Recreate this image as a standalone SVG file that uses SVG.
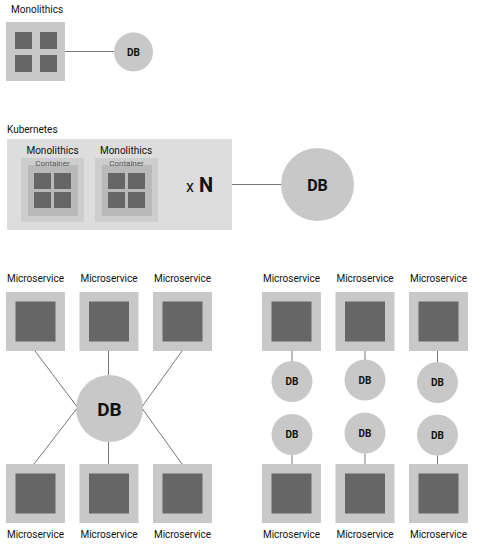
<svg xmlns="http://www.w3.org/2000/svg" width="487" height="556" viewBox="0 0 487 556">
<style>
text{font-family:Roboto,"Liberation Sans",sans-serif;fill:#111}
.lbl{font-size:10px;text-anchor:middle}
.ttl{font-size:10px}
.outer{fill:#c8c8c8}
.inner{fill:#666666}
.db{fill:#c8c8c8}
.dbt{font-weight:bold;text-anchor:middle}
.ln{stroke:#777;stroke-width:1;fill:none}
</style>
<rect width="487" height="556" fill="#ffffff"/>

<g id="monolith">
<text class="ttl" x="11" y="13">Monolithics</text>
<rect class="outer" x="6" y="22" width="59" height="59"/>
<rect class="inner" x="15" y="32" width="17" height="17"/>
<rect class="inner" x="40" y="32" width="17" height="17"/>
<rect class="inner" x="15" y="55" width="17" height="17"/>
<rect class="inner" x="40" y="55" width="17" height="17"/>
</g>
<g id="db-mono">
<circle class="db" cx="133.5" cy="52" r="19.5"/>
<text class="dbt" x="133.5" y="55.5" font-size="10">DB</text>
</g>

<g id="kubernetes">
<text class="ttl" x="7" y="133">Kubernetes</text>
<rect x="7" y="139" width="225" height="91" fill="#dddddd"/>
<text x="186" y="192" font-size="16">x</text>
<text x="199" y="192" font-size="20" font-weight="bold">N</text>
</g>
<g id="container1">
<text class="lbl" x="52.5" y="154">Monolithics</text>
<rect x="21" y="158" width="63" height="64" fill="#cdcdcd"/>
<rect x="28" y="165" width="50" height="51" fill="#b9b9b9"/>
<text x="52.5" y="166" font-size="8" text-anchor="middle" style="fill:#555">Container</text>
<rect class="inner" x="34" y="173" width="17" height="16"/>
<rect class="inner" x="54" y="173" width="17" height="16"/>
<rect class="inner" x="34" y="192" width="17" height="16"/>
<rect class="inner" x="54" y="192" width="17" height="16"/>
</g>
<g id="container2">
<text class="lbl" x="126" y="154">Monolithics</text>
<rect x="95" y="158" width="63" height="64" fill="#cdcdcd"/>
<rect x="102" y="165" width="50" height="51" fill="#b9b9b9"/>
<text x="126.5" y="166" font-size="8" text-anchor="middle" style="fill:#555">Container</text>
<rect class="inner" x="108" y="173" width="17" height="16"/>
<rect class="inner" x="128" y="173" width="17" height="16"/>
<rect class="inner" x="108" y="192" width="17" height="16"/>
<rect class="inner" x="128" y="192" width="17" height="16"/>
</g>
<g id="db-k8s">
<circle class="db" cx="317.5" cy="184.5" r="36.5"/>
<text class="dbt" x="317.5" y="190.5" font-size="16">DB</text>
</g>

<g id="ms-shared">
<g id="ms-l1"><text class="lbl" x="35.5" y="282">Microservice</text><rect class="outer" x="6" y="292" width="59" height="59"/><rect class="inner" x="15.5" y="301.5" width="40" height="40"/></g>
<g id="ms-l2"><text class="lbl" x="109" y="282">Microservice</text><rect class="outer" x="79.5" y="292" width="59" height="59"/><rect class="inner" x="89" y="301.5" width="40" height="40"/></g>
<g id="ms-l3"><text class="lbl" x="182.5" y="282">Microservice</text><rect class="outer" x="153" y="292" width="59" height="59"/><rect class="inner" x="162.5" y="301.5" width="40" height="40"/></g>
<g id="ms-l4"><rect class="outer" x="6" y="464" width="59" height="59"/><rect class="inner" x="15.5" y="473.5" width="40" height="40"/><text class="lbl" x="35.5" y="538">Microservice</text></g>
<g id="ms-l5"><rect class="outer" x="79.5" y="464" width="59" height="59"/><rect class="inner" x="89" y="473.5" width="40" height="40"/><text class="lbl" x="109" y="538">Microservice</text></g>
<g id="ms-l6"><rect class="outer" x="153" y="464" width="59" height="59"/><rect class="inner" x="162.5" y="473.5" width="40" height="40"/><text class="lbl" x="182.5" y="538">Microservice</text></g>
</g>
<g id="db-shared">
<circle class="db" cx="109.5" cy="408.5" r="33.5"/>
<text class="dbt" x="109.5" y="415.5" font-size="19">DB</text>
</g>

<g id="ms-own">
<g id="ms-r1"><text class="lbl" x="291.5" y="282">Microservice</text><rect class="outer" x="262" y="292" width="59" height="59"/><rect class="inner" x="271.5" y="301.5" width="40" height="40"/></g>
<g id="ms-r2"><text class="lbl" x="365" y="282">Microservice</text><rect class="outer" x="335.5" y="292" width="59" height="59"/><rect class="inner" x="345" y="301.5" width="40" height="40"/></g>
<g id="ms-r3"><text class="lbl" x="438.5" y="282">Microservice</text><rect class="outer" x="409" y="292" width="59" height="59"/><rect class="inner" x="418.5" y="301.5" width="40" height="40"/></g>
<g id="ms-r4"><rect class="outer" x="262" y="464" width="59" height="59"/><rect class="inner" x="271.5" y="473.5" width="40" height="40"/><text class="lbl" x="291.5" y="538">Microservice</text></g>
<g id="ms-r5"><rect class="outer" x="335.5" y="464" width="59" height="59"/><rect class="inner" x="345" y="473.5" width="40" height="40"/><text class="lbl" x="365" y="538">Microservice</text></g>
<g id="ms-r6"><rect class="outer" x="409" y="464" width="59" height="59"/><rect class="inner" x="418.5" y="473.5" width="40" height="40"/><text class="lbl" x="438.5" y="538">Microservice</text></g>
</g>
<g id="db-own">
<g id="db-r1"><circle class="db" cx="292" cy="381.5" r="20.5"/><text class="dbt" x="292" y="385" font-size="10">DB</text></g>
<g id="db-r2"><circle class="db" cx="365" cy="380" r="20.5"/><text class="dbt" x="365" y="383.5" font-size="10">DB</text></g>
<g id="db-r3"><circle class="db" cx="437.5" cy="382.5" r="20.5"/><text class="dbt" x="437.5" y="386" font-size="10">DB</text></g>
<g id="db-r4"><circle class="db" cx="292" cy="434.5" r="20.5"/><text class="dbt" x="292" y="438" font-size="10">DB</text></g>
<g id="db-r5"><circle class="db" cx="365" cy="433" r="20.5"/><text class="dbt" x="365" y="436.5" font-size="10">DB</text></g>
<g id="db-r6"><circle class="db" cx="437.5" cy="435" r="20.5"/><text class="dbt" x="437.5" y="438.5" font-size="10">DB</text></g>
</g>

<g id="connectors" class="ln">
<line x1="65" y1="51.5" x2="114" y2="51.5"/>
<line x1="232" y1="184.5" x2="281" y2="184.5"/>
<line x1="35" y1="351" x2="76.5" y2="406"/>
<line x1="76.5" y1="409" x2="34" y2="464"/>
<line x1="108.5" y1="351" x2="108.5" y2="375"/>
<line x1="108.5" y1="442" x2="108.5" y2="464"/>
<line x1="182" y1="351" x2="142.5" y2="406"/>
<line x1="142.5" y1="409" x2="182" y2="464"/>
<line x1="292" y1="351" x2="292" y2="361"/>
<line x1="365" y1="351" x2="365" y2="360"/>
<line x1="437.5" y1="351" x2="437.5" y2="362"/>
<line x1="292" y1="455" x2="292" y2="464"/>
<line x1="365" y1="453.5" x2="365" y2="464"/>
<line x1="437.5" y1="455.5" x2="437.5" y2="464"/>
</g>
</svg>
